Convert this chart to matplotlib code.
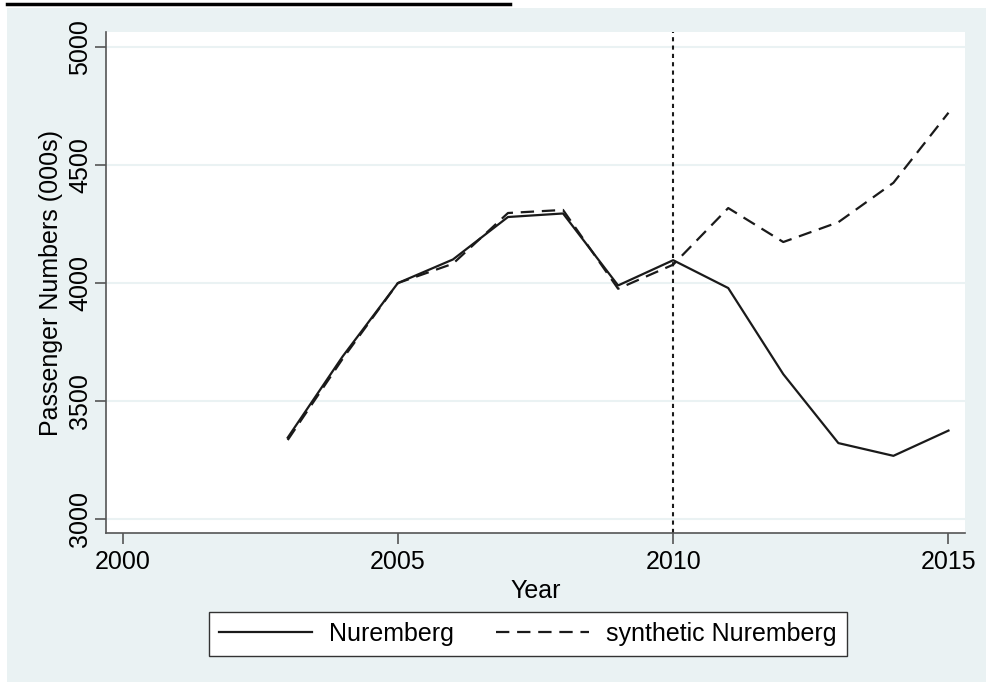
import matplotlib.pyplot as plt
from matplotlib.lines import Line2D
from matplotlib.patches import Rectangle

plt.rcParams['font.family'] = ['Liberation Sans', 'DejaVu Sans']

years = [2003, 2004, 2005, 2006, 2007, 2008, 2009, 2010, 2011, 2012, 2013, 2014, 2015]
nuremberg = [3345, 3690, 4000, 4100, 4280, 4295, 3990, 4097, 3979, 3614, 3322, 3268, 3375]
synthetic = [3335, 3680, 4000, 4082, 4297, 4310, 3976, 4078, 4318, 4174, 4258, 4425, 4722]
x_ticks = [2000, 2005, 2010, 2015]
y_ticks = [3000, 3500, 4000, 4500, 5000]
treat_year = 2010

bg = '#eaf2f3'
fig = plt.figure(figsize=(9.87, 6.82), dpi=100, facecolor='white')

# Stata-like graph region and cut-off caption underline
fig.patches.append(Rectangle((7 / 987, 0), 1, 1 - 8 / 682, transform=fig.transFigure,
                             facecolor=bg, edgecolor='none', zorder=-10))
fig.add_artist(Line2D([7 / 987, 510 / 987], [1 - 4 / 682, 1 - 4 / 682],
                      transform=fig.transFigure, color='black', lw=2.5))

ax = fig.add_axes([106 / 987, 149 / 682, 859 / 987, 501 / 682])
ax.set_zorder(1)
ax.set_facecolor('white')

ax.plot(years, nuremberg, color='#1a1a1a', lw=1.6, label='Nuremberg')
ax.plot(years, synthetic, color='#1a1a1a', lw=1.6, dashes=(6, 3.5), label='synthetic Nuremberg')
ax.axvline(treat_year, color='#1a1a1a', lw=1.5, dashes=(2, 2))

ax.set_xlim(1999.7, 2015.3)
ax.set_ylim(2941, 5064)
ax.set_xticks(x_ticks)
ax.set_yticks(y_ticks)
ax.grid(axis='y', color=bg, lw=1.5)
ax.set_axisbelow(True)

for s in ['top', 'right']:
    ax.spines[s].set_visible(False)
for s in ['left', 'bottom']:
    ax.spines[s].set_color('#555555')
    ax.spines[s].set_linewidth(1.2)

ax.tick_params(axis='both', direction='out', length=8, width=1.2, color='#555555',
               labelsize=18, pad=4)
ax.tick_params(axis='y', pad=2)
plt.setp(ax.get_yticklabels(), rotation=90, va='center')

ax.set_xlabel('Year', fontsize=18, labelpad=4)
ax.set_ylabel('Passenger Numbers (000s)', fontsize=18, labelpad=4)

fig.legend(loc='center', bbox_to_anchor=(528 / 987, 1 - 634 / 682), ncol=2,
           fontsize=18, frameon=True, fancybox=False, edgecolor='#333333',
           framealpha=1, handlelength=3.7, columnspacing=1.7, handletextpad=0.7,
           borderpad=0.4)

fig.savefig('out.png', dpi=100, facecolor=fig.get_facecolor())
